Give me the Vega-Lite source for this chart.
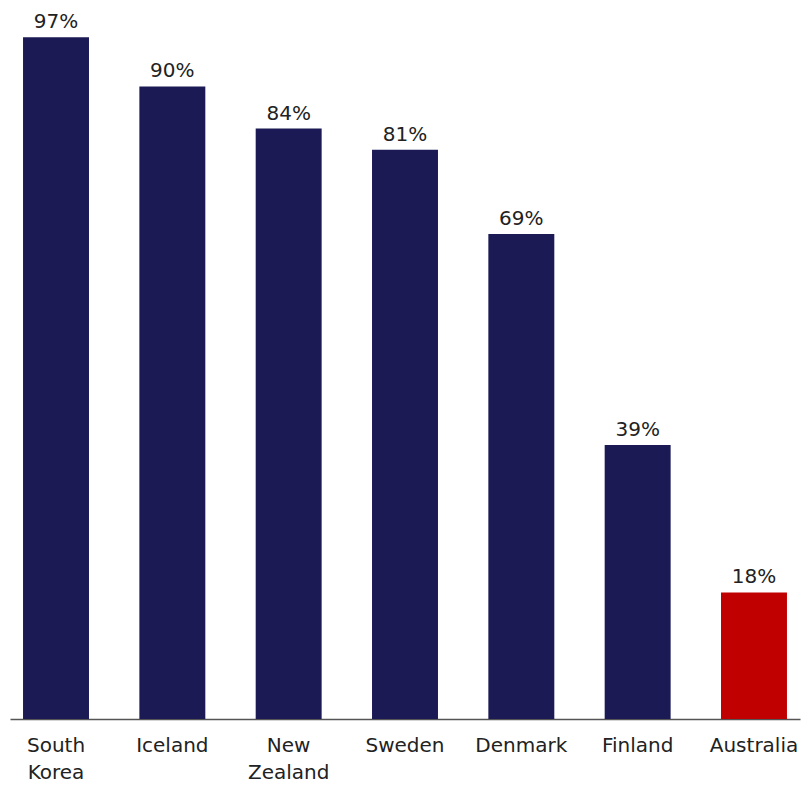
{
  "$schema": "https://vega.github.io/schema/vega-lite/v6.json",
  "width": 790,
  "height": 719,
  "autosize": "none",
  "padding": {"left": 10, "top": 0, "right": 1, "bottom": 66},
  "background": "white",
  "config": {"view": {"stroke": null}, "font": "DejaVu Sans"},
  "data": {"values": [
    {"country": "South Korea", "value": 97, "highlight": "no"},
    {"country": "Iceland", "value": 90, "highlight": "no"},
    {"country": "New Zealand", "value": 84, "highlight": "no"},
    {"country": "Sweden", "value": 81, "highlight": "no"},
    {"country": "Denmark", "value": 69, "highlight": "no"},
    {"country": "Finland", "value": 39, "highlight": "no"},
    {"country": "Australia", "value": 18, "highlight": "yes"}
  ]},
  "encoding": {
    "x": {"field": "country", "type": "nominal", "sort": null,
      "scale": {"paddingInner": 0.433, "paddingOuter": 0.112},
      "axis": {"title": null, "labelAngle": 0, "ticks": false, "domainColor": "#555555", "domainWidth": 1.5,
        "labelExpr": "split(datum.label, ' ')", "labelFontSize": 20, "labelColor": "#222222",
        "labelPadding": 32, "labelLineHeight": 27, "labelBaseline": "alphabetic"}},
    "y": {"field": "value", "type": "quantitative", "scale": {"domain": [0, 102.3], "nice": false}, "axis": null}
  },
  "layer": [
    {"mark": {"type": "bar"},
     "encoding": {"color": {"field": "highlight", "type": "nominal", "scale": {"domain": ["no", "yes"], "range": ["#1b1a55", "#c00000"]}, "legend": null}}},
    {"mark": {"type": "text", "baseline": "alphabetic", "dy": -9, "fontSize": 20, "color": "#222222"},
     "encoding": {"text": {"value": {"expr": "datum.value + '%'"}}}}
  ]
}
